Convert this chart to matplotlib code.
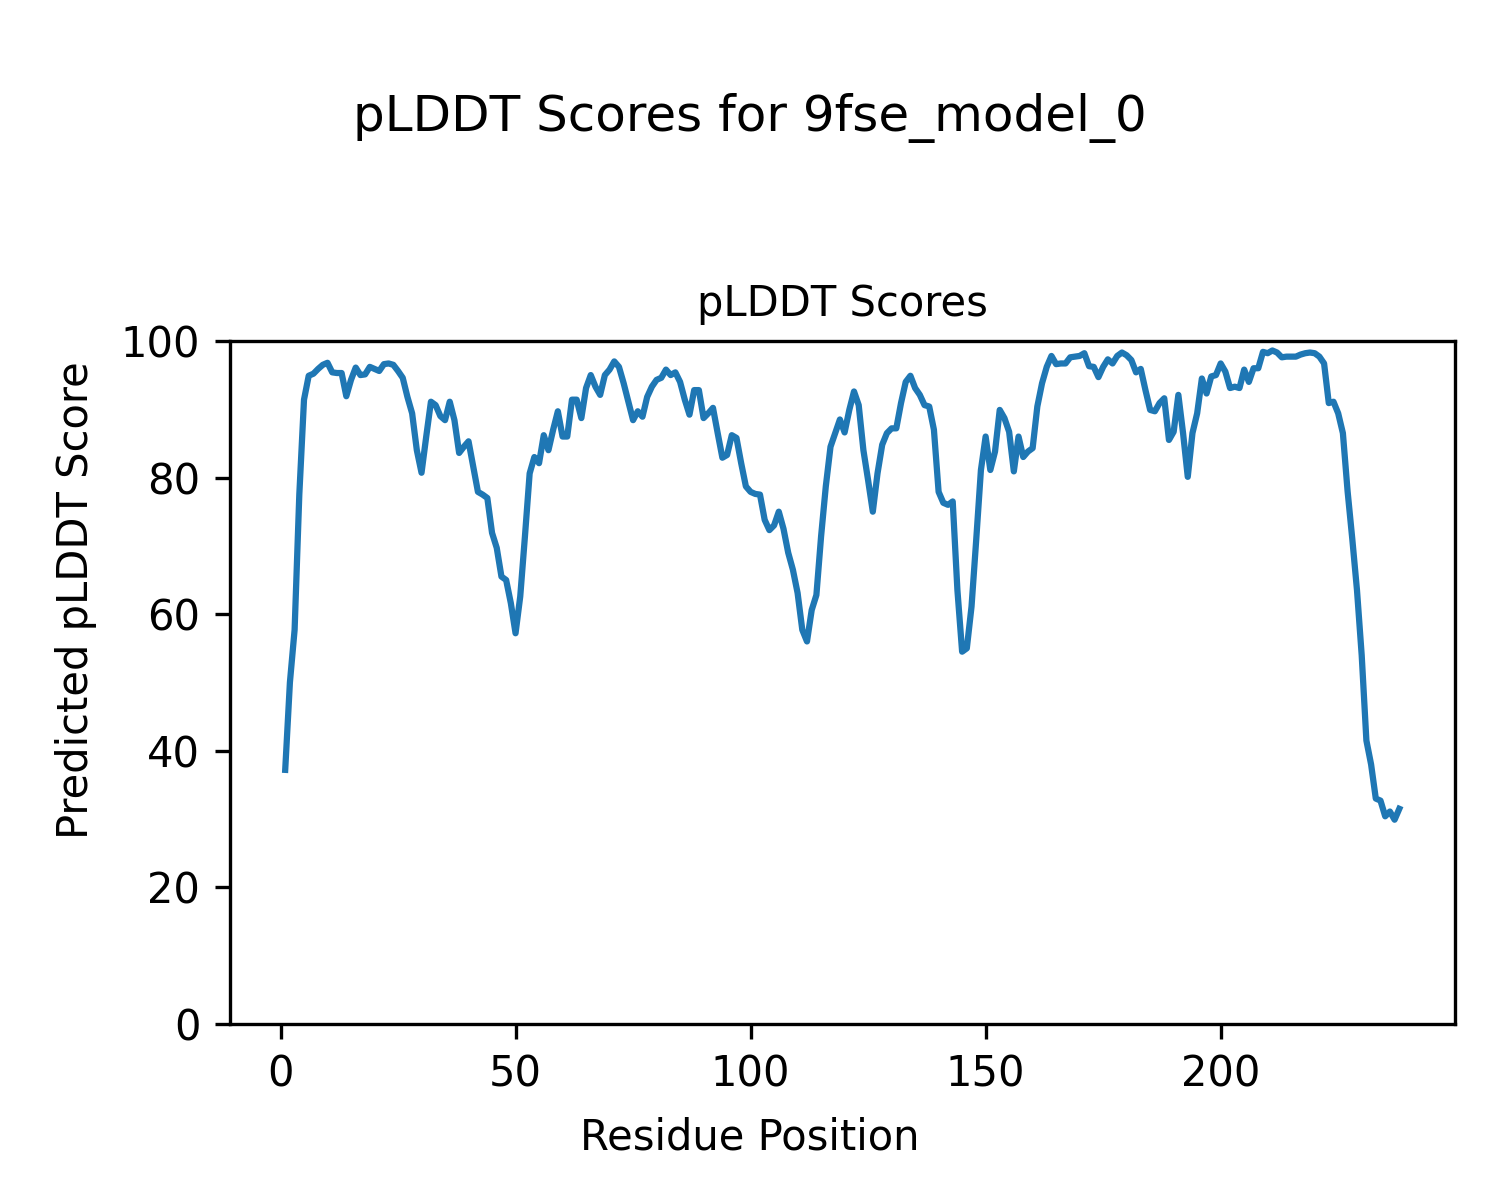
import numpy as np
import matplotlib
matplotlib.use("Agg")
import matplotlib.pyplot as plt

# 1. data: per-residue pLDDT
model_name = "9fse_model_0"
residue_start = 1
plddt = [
    37.2, 50.0, 57.7, 77.5, 91.4, 94.9, 95.2, 95.9, 96.5, 96.8,
    95.4, 95.3, 95.3, 91.9, 94.3, 96.1, 95.0, 95.1, 96.2, 95.9,
    95.6, 96.6, 96.7, 96.5, 95.6, 94.6, 91.8, 89.4, 84.0, 80.7,
    86.0, 91.1, 90.6, 89.0, 88.4, 91.1, 88.4, 83.6, 84.5, 85.3,
    81.6, 77.9, 77.5, 77.0, 71.9, 69.7, 65.5, 65.0, 61.6, 57.2,
    62.6, 71.4, 80.6, 83.0, 82.1, 86.2, 84.0, 87.0, 89.7, 86.0,
    86.0, 91.4, 91.4, 88.7, 93.1, 95.0, 93.3, 92.1, 95.0, 95.8,
    97.0, 96.2, 93.8, 91.1, 88.4, 89.7, 88.9, 91.8, 93.3, 94.3,
    94.6, 95.8, 95.0, 95.4, 94.0, 91.4, 89.2, 92.8, 92.8, 88.7,
    89.4, 90.2, 86.5, 82.9, 83.3, 86.2, 85.8, 82.1, 78.7, 77.9,
    77.6, 77.5, 73.8, 72.3, 73.0, 75.0, 72.5, 69.0, 66.5, 63.1,
    57.7, 56.0, 60.6, 62.8, 71.4, 78.7, 84.5, 86.5, 88.5, 86.6,
    89.9, 92.6, 90.6, 84.0, 79.6, 75.0, 80.6, 84.8, 86.5, 87.2,
    87.2, 90.9, 94.0, 94.9, 93.1, 92.1, 90.6, 90.4, 87.0, 77.9,
    76.3, 76.0, 76.5, 63.5, 54.5, 55.0, 61.1, 70.9, 81.1, 86.0,
    81.1, 83.8, 89.9, 88.7, 86.7, 80.9, 86.0, 83.0, 83.8, 84.3,
    90.4, 93.8, 96.2, 97.8, 96.6, 96.7, 96.7, 97.6, 97.7, 97.8,
    98.2, 96.3, 96.2, 94.7, 96.2, 97.3, 96.7, 97.8, 98.3, 97.9,
    97.2, 95.4, 95.9, 92.8, 89.9, 89.7, 90.9, 91.6, 85.5, 86.7,
    92.1, 86.5, 80.1, 86.5, 89.4, 94.5, 92.3, 94.8, 95.0, 96.7,
    95.5, 93.1, 93.3, 93.1, 95.8, 94.0, 96.0, 96.0, 98.4, 98.2,
    98.6, 98.3, 97.6, 97.7, 97.7, 97.7, 98.0, 98.2, 98.3, 98.2,
    97.7, 96.7, 90.9, 91.1, 89.4, 86.5, 78.0, 71.0, 63.5, 54.0,
    41.5, 38.0, 33.0, 32.7, 30.4, 31.1, 29.9, 31.5,
]
residues = np.arange(residue_start, residue_start + len(plddt))

# 2. figure
fig = plt.figure(figsize=(5, 4), dpi=300)
ax = fig.add_axes([0.153, 0.1467, 0.817, 0.5692])

ax.plot(residues, plddt, color="#1f77b4", linewidth=1.5)
ax.set_ylim(0, 100)
ax.set_title("pLDDT Scores", fontsize=10)
ax.tick_params(labelsize=10)

fig.suptitle(f"pLDDT Scores for {model_name}", fontsize=12, y=0.902, va="center")
fig.text(0.5, 0.052, "Residue Position", ha="center", va="center", fontsize=10)
fig.text(0.051, 0.5, "Predicted pLDDT Score", ha="center", va="center",
         rotation=90, fontsize=10)

fig.savefig("out.png", dpi=300)
